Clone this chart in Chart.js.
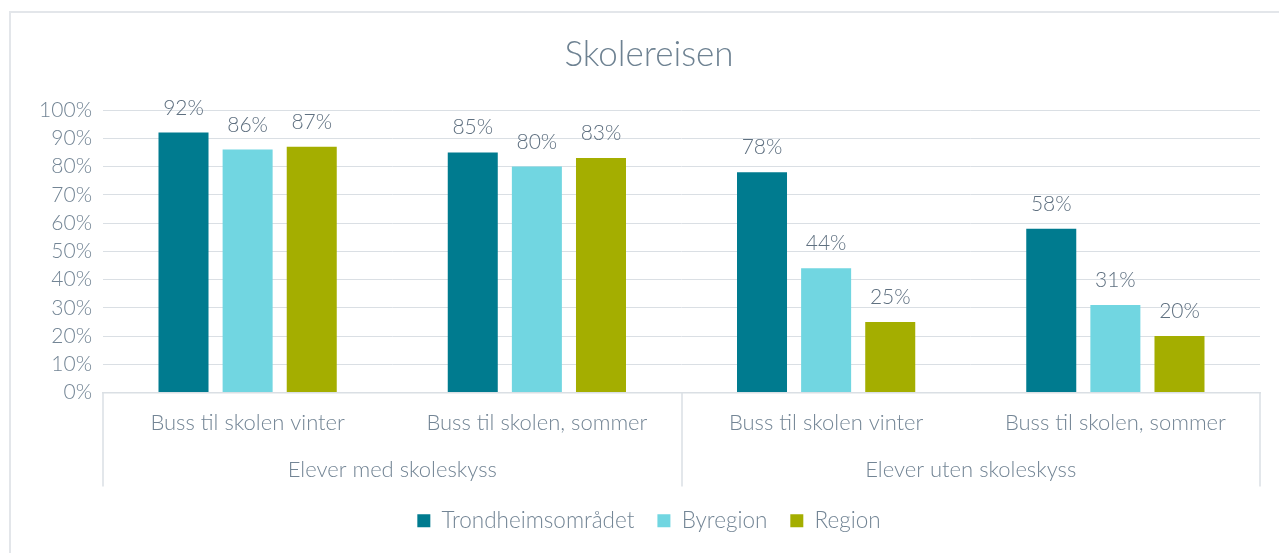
<!DOCTYPE html>
<html lang="no">
<head>
<meta charset="UTF-8">
<title>Skolereisen</title>
<script src="https://cdn.jsdelivr.net/npm/chart.js"></script>
<style>
  html, body { margin: 0; padding: 0; background: #fff; overflow: hidden; }
  .wrap { position: relative; width: 1279px; height: 553px; }
  .frame { position: absolute; left: 9px; top: 11px; width: 1300px; height: 600px;
           border-left: 2px solid #E3E6EA; border-top: 2px solid #E3E6EA; }
  canvas { position: absolute; left: 0; top: 0; }
</style>
</head>
<body>
<div class="wrap">
  <div class="frame"></div>
  <canvas id="chart" width="1279" height="553"></canvas>
</div>
<script>
  // values (percent)
  const categories = ['Buss til skolen vinter', 'Buss til skolen, sommer', 'Buss til skolen vinter', 'Buss til skolen, sommer'];
  const groups = ['Elever med skoleskyss', 'Elever uten skoleskyss'];
  const trondheim = [92, 85, 78, 58];
  const byregion = [86, 80, 44, 31];
  const region = [87, 83, 25, 20];

  const FONT = 'Lato';
  const TEXT = '#738595';
  const GRID = '#DADFE4';

  // draws the value above every bar
  const valueLabels = {
    id: 'valueLabels',
    afterDatasetsDraw(chart) {
      const ctx = chart.ctx;
      ctx.save();
      ctx.font = '300 21px ' + FONT;
      ctx.fillStyle = '#5f7080';
      ctx.textAlign = 'center';
      ctx.textBaseline = 'alphabetic';
      chart.data.datasets.forEach((ds, i) => {
        chart.getDatasetMeta(i).data.forEach((bar, j) => {
          ctx.fillText(ds.data[j] + '%', bar.x, bar.y - 18);
        });
      });
      ctx.restore();
    }
  };

  // vertical separators between the two groups on the category axis
  const groupLines = {
    id: 'groupLines',
    afterDraw(chart) {
      const x = chart.scales.x, x2 = chart.scales.x2;
      const ctx = chart.ctx;
      ctx.save();
      ctx.strokeStyle = GRID;
      ctx.lineWidth = 1.5;
      for (let g = 0; g <= groups.length; g++) {
        const px = Math.round(x.left + (x.right - x.left) * g / groups.length);
        ctx.beginPath();
        ctx.moveTo(px, x.top);
        ctx.lineTo(px, x2.bottom);
        ctx.stroke();
      }
      ctx.restore();
    }
  };

  Chart.defaults.font.family = FONT;
  Chart.defaults.font.weight = 300;
  Chart.defaults.color = TEXT;

  new Chart(document.getElementById('chart'), {
    type: 'bar',
    data: {
      labels: categories,
      datasets: [
        { label: 'Trondheimsområdet', data: trondheim, backgroundColor: '#007B8F', borderWidth: 0 },
        { label: 'Byregion', data: byregion, backgroundColor: '#71D6E1', borderWidth: 0 },
        { label: 'Region', data: region, backgroundColor: '#A4AE00', borderWidth: 0 }
      ]
    },
    options: {
      responsive: false,
      animation: false,
      categoryPercentage: 0.665,
      barPercentage: 0.78,
      layout: { padding: { left: 38, right: 19, top: 0, bottom: 11 } },
      scales: {
        y: {
          min: 0,
          max: 100,
          ticks: { stepSize: 10, padding: 11, font: { size: 21 }, callback: v => v + '%' },
          grid: { color: GRID, lineWidth: 1, drawTicks: false },
          border: { display: false },
          afterFit: s => { s.width = 65; }
        },
        x: {
          grid: { display: false, drawTicks: false },
          border: { display: true, color: GRID, width: 1.5 },
          ticks: { padding: 17, font: { size: 22 }, maxRotation: 0 },
          afterFit: s => { s.height = 54; }
        },
        x2: {
          type: 'category',
          labels: groups,
          position: 'bottom',
          offset: true,
          grid: { display: false, drawTicks: false },
          border: { display: false },
          ticks: { padding: 10, font: { size: 22 }, maxRotation: 0 },
          afterFit: s => { s.height = 40; }
        }
      },
      plugins: {
        title: {
          display: true,
          text: 'Skolereisen',
          color: '#6E8292',
          font: { size: 35, weight: 300 },
          padding: { top: 34, bottom: 34 }
        },
        legend: {
          position: 'bottom',
          labels: { boxWidth: 13, boxHeight: 13, padding: 23, font: { size: 22.5 } }
        },
        tooltip: { enabled: false }
      }
    },
    plugins: [valueLabels, groupLines]
  });
</script>
</body>
</html>
